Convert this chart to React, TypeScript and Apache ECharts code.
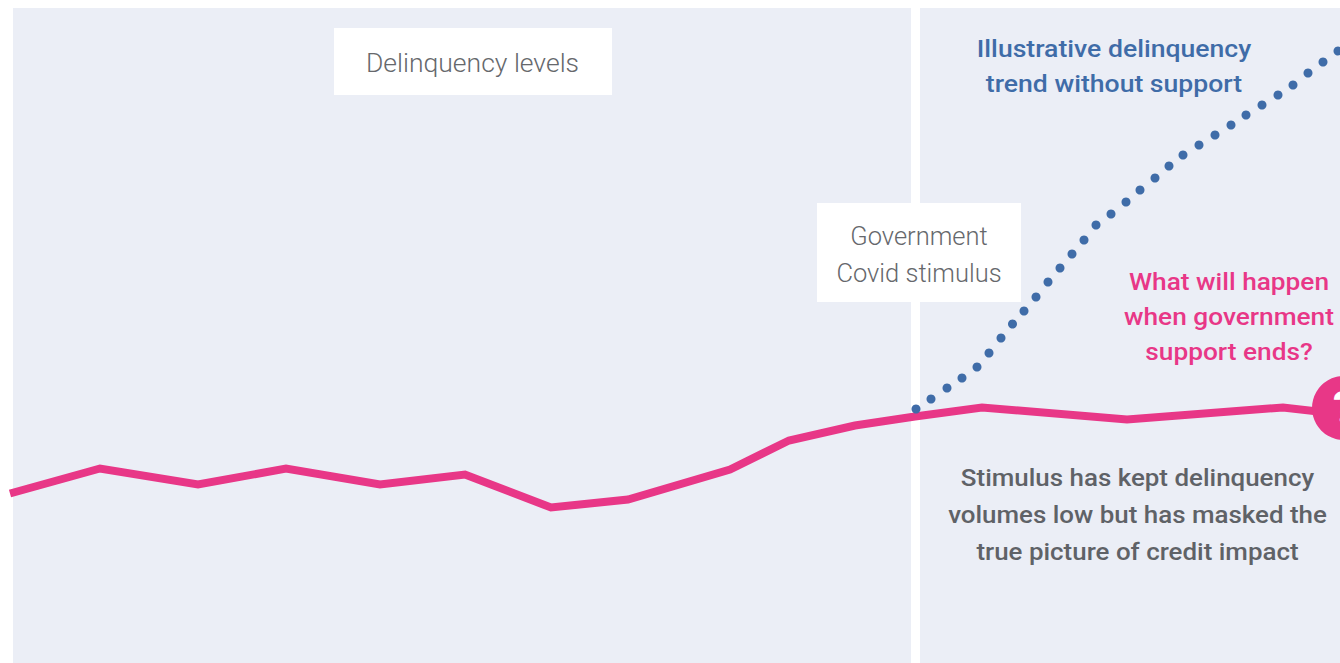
import React, { useEffect, useRef } from "react";
import * as echarts from "echarts";

const delinquencyX = [10, 100, 198, 286, 380, 465, 551, 628, 730, 789, 855, 915, 982, 1127, 1283, 1345];
const delinquencyLevels = [169.5, 194.5, 178.5, 194.5, 178.5, 188.5, 155.5, 163.5, 193.5, 222.5, 237.5, 246.5, 255.5, 243.5, 255.5, 248.5];

const trendX = [916, 931, 947, 962, 977, 989, 1001, 1012.5, 1024, 1036, 1048, 1060, 1072, 1084, 1096, 1111, 1126, 1140, 1155, 1169, 1183, 1199, 1215, 1231, 1246, 1262, 1278, 1293, 1308, 1323, 1338];
const trendLevels = [254, 264, 275, 285, 296, 310, 325, 339, 352, 366, 381, 395, 409, 423, 438, 449, 461, 473, 485, 497, 508, 518, 528, 538, 548, 558, 568, 578, 590, 601, 612];

const endMarker = [[1344, 255]];

const pink = "#E83787";
const blue = "#3F6CA8";
const grey = "#66686C";
const boldGrey = "#5F6267";
const panel = "#EBEEF6";
const font = "Roboto";

const textBlock = (lines: string[], cx: number, firstY: number, step: number, color: string, size: number, weight: number, stretch: number) =>
  lines.map((line, i) => ({
    type: "text",
    z: 20,
    x: cx,
    y: firstY + i * step,
    scaleX: stretch,
    style: { text: line, fill: color, font: `${weight} ${size}px ${font}`, textAlign: "center", textVerticalAlign: "middle" },
  }));

export default function App() {
  const ref = useRef<HTMLDivElement>(null);
  useEffect(() => {
    document.body.style.margin = "0";
    const chart = echarts.init(ref.current!, null, { renderer: "svg" });
    chart.setOption({
      animation: false,
      backgroundColor: "#fff",
      grid: { left: 0, right: 0, top: 0, bottom: 0 },
      xAxis: { type: "value", min: 0, max: 1340, show: false },
      yAxis: { type: "value", min: 0, max: 663, show: false },
      graphic: [
        { type: "rect", z: -5, shape: { x: 13, y: 8, width: 898, height: 655 }, style: { fill: panel } },
        { type: "rect", z: -5, shape: { x: 920, y: 8, width: 420, height: 655 }, style: { fill: panel } },
        { type: "rect", z: 10, shape: { x: 334, y: 28, width: 278, height: 67 }, style: { fill: "#fff" } },
        { type: "rect", z: 10, shape: { x: 817, y: 203, width: 204, height: 99 }, style: { fill: "#fff" } },
        ...textBlock(["Delinquency levels"], 472.5, 63.5, 0, grey, 26, 300, 1.02),
        ...textBlock(["Government", "Covid stimulus"], 919, 237, 37, grey, 25, 300, 1.02),
        ...textBlock(["Illustrative delinquency", "trend without support"], 1114, 49, 35, blue, 24, 500, 1.108),
        ...textBlock(["What will happen", "when government", "support ends?"], 1229, 282, 35, pink, 24, 500, 1.094),
        ...textBlock(["Stimulus has kept delinquency", "volumes low but has masked the", "true picture of credit impact"], 1137.5, 478, 37, boldGrey, 24, 500, 1.08),
      ],
      series: [
        {
          type: "line",
          data: delinquencyX.map((x, i) => [x, delinquencyLevels[i]]),
          showSymbol: false,
          clip: false,
          lineStyle: { color: pink, width: 8, cap: "butt", join: "miter" },
          z: 3,
        },
        {
          type: "scatter",
          data: trendX.map((x, i) => [x, trendLevels[i]]),
          symbol: "circle",
          symbolSize: 9,
          clip: false,
          itemStyle: { color: blue, opacity: 1 },
          z: 4,
        },
        {
          type: "scatter",
          data: endMarker,
          symbol: "circle",
          symbolSize: 64,
          clip: false,
          itemStyle: { color: pink, opacity: 1 },
          label: { show: true, position: "inside", formatter: "?", color: "#fff", fontFamily: font, fontWeight: 700, fontSize: 44 },
          z: 5,
        },
      ],
    });
    return () => chart.dispose();
  }, []);
  return <div ref={ref} style={{ position: "fixed", left: 0, top: 0, width: 1340, height: 663 }} />;
}
